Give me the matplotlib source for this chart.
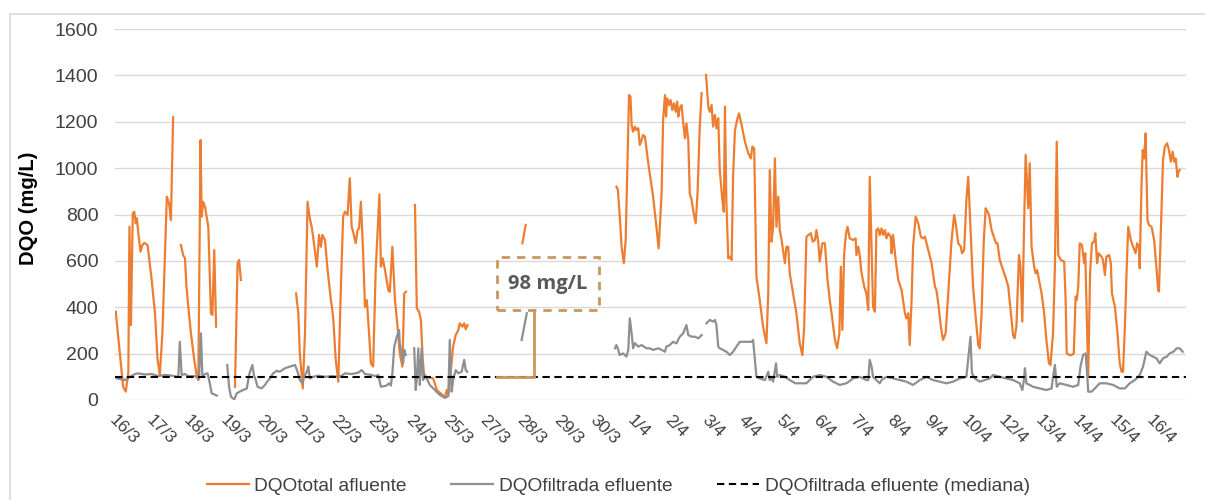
import numpy as np
import matplotlib
matplotlib.use("Agg")
import matplotlib.pyplot as plt
from matplotlib.patches import Rectangle

plt.rcParams["font.family"] = ["Liberation Sans", "DejaVu Sans"]

# x positions are in units of the date labels (0 = 16/3, 28 = 16/4); nan = gap
tick_labels = ["16/3", "17/3", "18/3", "19/3", "20/3", "21/3", "22/3", "23/3",
               "24/3", "25/3", "27/3", "28/3", "29/3", "30/3", "1/4", "2/4",
               "3/4", "4/4", "5/4", "6/4", "7/4", "8/4", "9/4", "10/4", "12/4",
               "13/4", "14/4", "15/4", "16/4"]

afl_t = [0.02, 0.13, 0.22, 0.29, 0.36, 0.39, 0.43, 0.48, 0.52, 0.56, 0.59, 0.63,
         0.69, 0.74, 0.79, 0.88, 0.99, 1.08, 1.15, 1.21, 1.28, 1.40, 1.46, 1.51,
         1.57, np.nan,
         1.78, 1.84, 1.89, 1.93, 1.98, 2.05, 2.14, 2.21, 2.25, 2.31, 2.34, 2.38,
         2.43, 2.52, 2.59, 2.63, 2.68, 2.73, np.nan,
         3.24, 3.31, 3.35, 3.40, np.nan,
         4.89, 4.95, 4.99, 5.07, 5.13, 5.20, 5.26, 5.31, 5.35, 5.45, 5.51, 5.56,
         5.60, 5.67, 5.74, 5.83, 5.89, 5.96, 6.03, 6.10, 6.16, 6.21, 6.28, 6.34,
         6.39, 6.43, 6.50, 6.55, 6.59, 6.64, 6.70, 6.75, 6.80, 6.86, 6.91, 6.97,
         7.04, 7.14, 7.18, 7.23, 7.29, 7.38, 7.42, 7.49, 7.56, 7.63, 7.69, 7.76,
         7.81, 7.86, np.nan,
         8.10, 8.15, 8.21, 8.26, 8.31, 8.35, 8.59, 8.69, 8.77, 8.84, 8.91, 8.96,
         9.00, 9.06, 9.13, 9.20, 9.27, 9.31, 9.38, 9.43, 9.47, 9.52, np.nan,
         11.00, 11.09, np.nan,
         13.54, 13.58, 13.63, 13.68, 13.74, 13.79, 13.84, 13.88, 13.92, 13.95,
         13.99, 14.04, 14.08, 14.13, 14.17, 14.22, 14.26, 14.31, 14.40, 14.53,
         14.62, 14.68, 14.76, 14.80, 14.85, 14.88, 14.91, 14.96, 15.00, 15.05,
         15.09, 15.14, 15.18, 15.21, 15.25, 15.30, 15.34, 15.39, 15.43, 15.48,
         15.52, 15.57, 15.61, 15.68, 15.73, 15.79, 15.84, np.nan,
         15.96, 16.02, 16.06, 16.11, 16.15, 16.20, 16.24, 16.29, 16.33, 16.40,
         16.44, 16.47, 16.51, 16.56, 16.60, 16.65, 16.69, 16.74, 16.81, 16.85,
         16.92, 17.01, 17.10, 17.17, 17.21, 17.26, 17.32, 17.41, 17.50, 17.59,
         17.64, 17.68, 17.73, 17.77, 17.82, 17.86, 17.91, 17.95, 18.00, 18.04,
         18.09, 18.13, 18.18, 18.22, 18.31, 18.40, 18.49, 18.56, 18.61, 18.67,
         18.73, 18.79, 18.84, 18.90, 18.94, 18.99, 19.03, 19.10, 19.17, 19.24,
         19.30, 19.35, 19.44, 19.50, 19.56, 19.60, 19.64, 19.69, 19.74, 19.78,
         19.84, 19.93, 20.00, 20.02, 20.07, 20.11, 20.16, 20.23, 20.29, 20.34,
         20.38, 20.43, 20.47, 20.52, 20.56, 20.61, 20.65, 20.70, 20.74, 20.79,
         20.83, 20.88, 20.95, 20.97, 21.01, 21.08, 21.15, 21.24, 21.33, 21.37,
         21.42, 21.46, 21.51, 21.55, 21.62, 21.69, 21.76, 21.82, 21.87, 21.96,
         22.05, 22.14, 22.18, 22.23, 22.30, 22.36, 22.43, 22.50, 22.59, 22.66,
         22.70, 22.77, 22.84, 22.87, 22.93, 22.99, 23.04, 23.08, 23.13, 23.17,
         23.24, 23.31, 23.35, 23.40, 23.46, 23.51, 23.56, 23.60, 23.67, 23.73,
         23.79, 23.83, 23.89, 23.98, 24.07, 24.12, 24.19, 24.25, 24.29, 24.34,
         24.41, 24.45, 24.50, 24.54, 24.59, 24.66, 24.70, 24.75, 24.82, 24.86,
         24.90, 24.95, 25.02, 25.09, 25.15, 25.22, 25.26, 25.33, 25.38, 25.43,
         25.47, 25.54, 25.63, 25.67, 25.70, 25.77, 25.83, 25.89, 25.94, 25.97,
         26.01, 26.05, 26.11, 26.17, 26.20, 26.23, 26.28, 26.33, 26.38, 26.44,
         26.47, 26.52, 26.56, 26.64, 26.68, 26.73, 26.77, 26.84, 26.89, 26.92,
         27.00, 27.07, 27.13, 27.18, 27.22, 27.27, 27.32, 27.36, 27.43, 27.49,
         27.56, 27.60, 27.65, 27.67, 27.72, 27.75, 27.79, 27.83, 27.88, 27.92,
         27.99, 28.06, 28.12, 28.17, 28.19, 28.24, 28.30, 28.35, 28.41, 28.46,
         28.51, 28.56, 28.60, 28.64, 28.69, 28.72, 28.75]

afl_dqo = [381, 203, 57, 36, 116, 747, 323, 805, 812, 762, 784, 719,
           640, 668, 678, 668, 518, 374, 173, 108, 288, 877, 848, 776,
           1219, np.nan,
           668, 625, 611, 489, 402, 288, 173, 101, 86, 1121, 791, 855,
           834, 747, 374, 367, 647, 316, np.nan,
           57, 590, 604, 518, np.nan,
           460, 374, 201, 50, 288, 855, 784, 747, 704, 575, 712, 661,
           712, 690, 561, 431, 359, 173, 79, 489, 791, 812, 798, 956,
           747, 726, 676, 733, 740, 855, 633, 402, 431, 288, 158, 144,
           561, 887, 575, 611, 561, 474, 467, 661, 431, 316, 201, 144,
           460, 467, np.nan,
           841, 395, 381, 345, 173, 101, 93, 43, 32, 22, 14, 43,
           22, 115, 230, 280, 302, 331, 316, 331, 305, 323, np.nan,
           676, 755, np.nan,
           920, 906, 791, 661, 590, 690, 1035, 1315, 1308, 1186,
           1157, 1179, 1164, 1172, 1100, 1121, 1143, 1136, 1021, 877,
           747, 654, 891, 1208, 1315, 1222, 1301, 1272, 1294, 1251,
           1280, 1243, 1287, 1222, 1258, 1272, 1200, 1129, 1193, 1121,
           891, 863, 819, 762, 891, 1179, 1323, np.nan,
           1402, 1265, 1243, 1272, 1179, 1229, 1172, 1215, 992, 863,
           812, 1265, 848, 611, 618, 604, 963, 1164, 1215, 1236,
           1186, 1114, 1064, 1042, 1093, 1085, 532, 431, 316, 245,
           460, 992, 683, 747, 1042, 747, 877, 733, 690, 647,
           590, 661, 661, 546, 460, 374, 245, 194, 316, 704,
           712, 719, 683, 690, 733, 683, 597, 676, 676, 518,
           431, 374, 259, 223, 288, 575, 302, 633, 719, 747,
           697, 690, 697, 625, 661, 625, 546, 489, 460, 388,
           963, 661, 402, 381, 733, 740, 712, 740, 712, 733,
           697, 719, 704, 633, 712, 604, 518, 474, 374, 352,
           374, 237, 431, 661, 791, 762, 704, 697, 704, 647,
           590, 489, 474, 417, 316, 259, 288, 460, 690, 798,
           762, 676, 661, 633, 647, 863, 963, 819, 647, 489,
           359, 237, 223, 374, 690, 827, 812, 798, 733, 704,
           676, 676, 604, 561, 518, 489, 374, 280, 266, 316,
           625, 575, 338, 690, 1057, 827, 1021, 661, 575, 546,
           560, 518, 460, 374, 259, 158, 151, 288, 575, 1114,
           625, 604, 597, 431, 201, 194, 194, 201, 446, 431,
           489, 676, 668, 590, 633, 431, 101, 546, 676, 683,
           719, 590, 633, 618, 604, 539, 618, 625, 590, 460,
           402, 288, 158, 122, 122, 316, 575, 747, 690, 661,
           633, 676, 661, 568, 935, 1078, 1042, 1150, 776, 755,
           747, 690, 575, 474, 468, 719, 1035, 1093, 1107, 1078,
           1028, 1071, 1028, 1042, 963, 985, 992]

efl_t = [0.05, 0.27, 0.40, 0.54, 0.63, 0.81, 0.99, 1.17, 1.35, 1.54, 1.71, 1.75,
         1.80, 1.89, 1.98, 2.16, 2.27, 2.32, 2.36, 2.43, 2.50, 2.56, 2.61, 2.75,
         np.nan,
         3.03, 3.08, 3.13, 3.22, 3.29, 3.37, 3.46, 3.56, 3.62, 3.66, 3.71, 3.75,
         3.80, 3.85, 3.96, 4.05, 4.11, 4.18, 4.27, 4.37, 4.45, 4.59, 4.72, 4.86,
         4.93, 4.99, 5.06, 5.11, 5.18, 5.22, 5.26, 5.35, 5.49, 5.67, 5.85, 6.03,
         6.12, 6.21, 6.39, 6.57, 6.66, 6.75, 6.93, 7.02, 7.11, 7.18, 7.27, 7.33,
         7.40, 7.45, 7.49, 7.54, 7.61, 7.67, 7.69, 7.74, 7.78, 7.81, 7.85, np.nan,
         8.08, 8.12, 8.15, 8.19, 8.23, 8.28, 8.32, 8.37, 8.50, 8.64, 8.77, 8.91,
         9.00, 9.04, 9.09, 9.13, 9.20, 9.27, 9.36, 9.43, 9.47, 9.51, np.nan,
         10.98, 11.12, np.nan,
         13.50, 13.54, 13.59, 13.63, 13.72, 13.81, 13.86, 13.90, 13.95, 13.99,
         14.04, 14.13, 14.22, 14.35, 14.44, 14.53, 14.67, 14.76, 14.85, 14.89,
         14.98, 15.07, 15.16, 15.25, 15.34, 15.43, 15.48, 15.57, 15.66, 15.75,
         15.84, np.nan,
         15.97, 16.06, 16.15, 16.20, 16.24, 16.29, 16.33, 16.42, 16.51, 16.60,
         16.69, 16.78, 16.87, 17.05, 17.19, 17.23, 17.28, 17.32, 17.41, 17.55,
         17.64, 17.68, 17.73, 17.77, 17.85, 17.88, 17.95, 18.09, 18.22, 18.37,
         18.49, 18.67, 18.85, 19.03, 19.21, 19.39, 19.57, 19.75, 19.93, 20.11,
         20.29, 20.34, 20.38, 20.43, 20.47, 20.56, 20.65, 20.70, 20.83, 21.01,
         21.19, 21.37, 21.55, 21.73, 21.91, 22.09, 22.27, 22.45, 22.63, 22.81,
         22.99, 23.04, 23.10, 23.14, 23.22, 23.35, 23.49, 23.62, 23.71, 23.89,
         24.07, 24.25, 24.43, 24.50, 24.55, 24.57, 24.61, 24.70, 24.79, 24.97,
         25.15, 25.29, 25.33, 25.38, 25.43, 25.51, 25.69, 25.87, 26.01, 26.07,
         26.14, 26.21, 26.25, 26.28, 26.37, 26.46, 26.59, 26.77, 26.95, 27.13,
         27.27, 27.40, 27.54, 27.67, 27.76, 27.85, 27.94, 28.03, 28.12, 28.21,
         28.30, 28.40, 28.48, 28.58, 28.67, 28.75, 28.83]

efl_dqo = [93, 86, 100, 112, 115, 110, 112, 103, 108, 105, 100, 251,
           108, 112, 103, 103, 93, 288, 101, 112, 115, 72, 29, 19,
           np.nan,
           151, 57, 14, 3, 29, 36, 43, 50, 108, 129, 151, 108,
           86, 57, 50, 65, 79, 93, 115, 126, 122, 137, 144, 151,
           122, 86, 72, 101, 122, 144, 93, 100, 105, 100, 103, 100,
           105, 115, 112, 118, 129, 112, 108, 103, 108, 57, 60, 62,
           72, 62, 115, 230, 273, 302, 245, 201, 158, 216, 194, np.nan,
           223, 43, 93, 223, 65, 223, 86, 108, 65, 43, 22, 9,
           17, 259, 36, 86, 129, 115, 122, 173, 129, 122, np.nan,
           259, 374, np.nan,
           223, 237, 216, 194, 201, 187, 216, 352, 288, 223,
           245, 230, 237, 223, 223, 216, 223, 216, 208, 230,
           237, 251, 244, 273, 287, 323, 280, 273, 273, 266,
           280, np.nan,
           331, 345, 338, 345, 323, 230, 223, 216, 208, 194,
           208, 230, 251, 251, 251, 259, 173, 101, 93, 86,
           122, 86, 100, 79, 158, 100, 108, 100, 86, 72,
           72, 72, 100, 108, 100, 79, 65, 72, 93, 100,
           86, 86, 173, 144, 100, 86, 72, 86, 100, 93,
           86, 79, 65, 86, 100, 86, 79, 72, 79, 93,
           100, 180, 273, 115, 93, 79, 86, 93, 108, 100,
           93, 86, 72, 43, 93, 137, 72, 65, 57, 50,
           43, 50, 100, 151, 57, 72, 65, 57, 65, 144,
           194, 201, 115, 36, 36, 50, 72, 72, 65, 50,
           50, 72, 86, 108, 144, 208, 194, 187, 180, 158,
           180, 187, 201, 208, 223, 223, 208]

mediana = 98
callout_text = "98 mg/L"

fig = plt.figure(figsize=(12.05, 5.0), dpi=100)
ax = fig.add_axes([115 / 1205, 0.2, 1071 / 1205, 0.742])

# light frame around the chart area
fig.patches.append(Rectangle((10 / 1205, -0.05), 1.1, 1 - 14 / 500 + 0.05,
                             transform=fig.transFigure, fill=False,
                             edgecolor="#d9d9d9", linewidth=1.2))

ax.plot(afl_t, afl_dqo, color="#ED7D31", linewidth=1.6,
        label="DQOtotal afluente", zorder=3)
ax.plot(efl_t, efl_dqo, color="#8f8f8f", linewidth=1.6,
        label="DQOfiltrada efluente", zorder=4)
ax.axhline(mediana, color="black", linewidth=1.5, linestyle=(0, (3.5, 2.2)),
           label="DQOfiltrada efluente (mediana)", zorder=5)

# callout for the median
callout_col = "#c9975b"
ax.add_patch(Rectangle((10.32, 388), 2.75, 229, fill=False, edgecolor=callout_col,
                       linewidth=2, linestyle=(0, (3, 2.5)), zorder=6))
ax.text(11.69, 502, callout_text, ha="center", va="center", fontsize=14.5,
        fontweight="bold", color="#595959", family=["Open Sans", "DejaVu Sans"],
        zorder=7)
ax.plot([10.31, 11.32, 11.32], [mediana, mediana, 388], color=callout_col,
        linewidth=2, zorder=6)

ax.set_xlim(0, 28.92)
ax.set_ylim(0, 1600)
ax.set_yticks(range(0, 1601, 200))
ax.grid(axis="y", color="#d9d9d9", linewidth=1, zorder=0)
ax.set_axisbelow(True)
for s in ax.spines.values():
    s.set_visible(False)

ax.set_xticks(np.arange(len(tick_labels)) + 0.05)
ax.set_xticklabels(tick_labels, rotation=-45, ha="left", va="top",
                   rotation_mode="anchor")
ax.tick_params(axis="x", length=0, pad=9, labelsize=12.5, labelcolor="#404040")
ax.tick_params(axis="y", length=0, pad=12, labelsize=14, labelcolor="#404040")

fig.text(28 / 1205, 1 - 208 / 500, "DQO (mg/L)", rotation=90, ha="center",
         va="center", fontsize=14.5, fontweight="bold", color="black")

fig.legend(loc="center", bbox_to_anchor=(0.513, 0.028), ncol=3, frameon=False,
           fontsize=13.8, handlelength=2.2, handletextpad=0.3,
           columnspacing=2.3, labelcolor="#404040")

fig.savefig("out.png", dpi=100)
